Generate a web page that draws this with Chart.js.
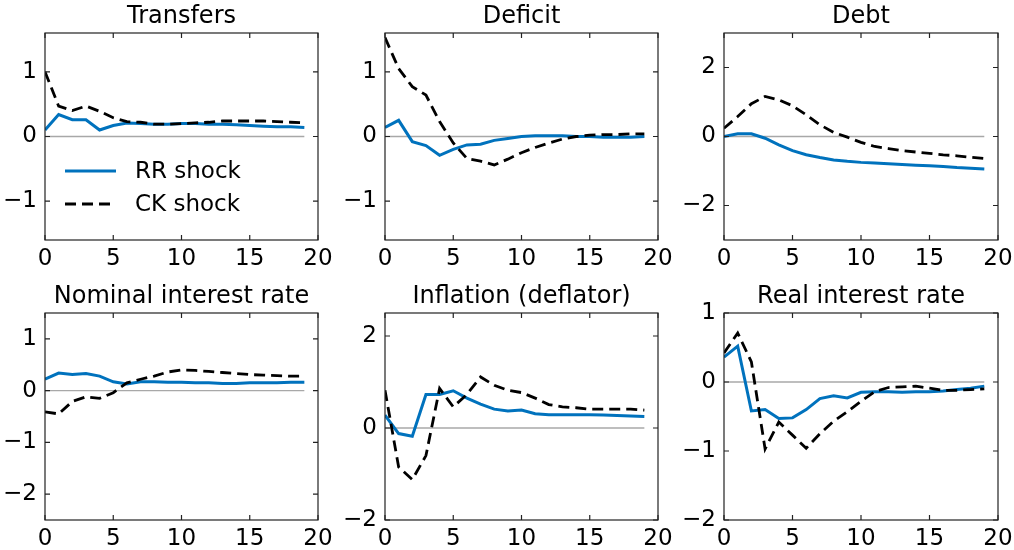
<!DOCTYPE html>
<html>
<head>
<meta charset="utf-8">
<script src="https://cdn.jsdelivr.net/npm/chart.js@4.4.0/dist/chart.umd.min.js"></script>
<style>
  body { margin: 0; background: #fff; width: 1014px; height: 550px; overflow: hidden; position: relative; }
  canvas { position: absolute; }
</style>
</head>
<body>
<script>
// impulse responses, quarters after the shock
var horizon = [0, 1, 2, 3, 4, 5, 6, 7, 8, 9, 10, 11, 12, 13, 14, 15, 16, 17, 18, 19];
var seriesNames = ['RR shock', 'CK shock'];
var titles = ['Transfers', 'Deficit', 'Debt', 'Nominal interest rate', 'Inflation (deflator)', 'Real interest rate'];
var xTicks = [0, 5, 10, 15, 20];

var rrTransfers = [0.10, 0.34, 0.26, 0.26, 0.10, 0.17, 0.21, 0.20, 0.19, 0.19, 0.20, 0.20, 0.19, 0.19, 0.18, 0.17, 0.16, 0.15, 0.15, 0.14];
var ckTransfers = [1.00, 0.47, 0.40, 0.47, 0.39, 0.29, 0.23, 0.22, 0.19, 0.19, 0.20, 0.21, 0.22, 0.24, 0.24, 0.24, 0.24, 0.23, 0.22, 0.21];

var rrDeficit = [0.14, 0.25, -0.08, -0.14, -0.29, -0.20, -0.13, -0.12, -0.06, -0.03, 0.00, 0.01, 0.01, 0.01, 0.00, 0.00, -0.01, -0.01, -0.01, 0.00];
var ckDeficit = [1.53, 1.05, 0.77, 0.64, 0.23, -0.10, -0.34, -0.38, -0.44, -0.35, -0.25, -0.17, -0.10, -0.04, 0.00, 0.02, 0.03, 0.03, 0.04, 0.04];

var rrDebt = [0.00, 0.08, 0.08, -0.05, -0.24, -0.41, -0.53, -0.61, -0.68, -0.72, -0.75, -0.77, -0.79, -0.81, -0.83, -0.85, -0.87, -0.90, -0.92, -0.94];
var ckDebt = [0.24, 0.58, 0.95, 1.16, 1.06, 0.89, 0.63, 0.34, 0.12, -0.02, -0.17, -0.29, -0.35, -0.41, -0.45, -0.49, -0.53, -0.56, -0.60, -0.64];

var rrNominal = [0.22, 0.34, 0.31, 0.33, 0.28, 0.17, 0.13, 0.17, 0.17, 0.16, 0.16, 0.15, 0.15, 0.14, 0.14, 0.15, 0.15, 0.15, 0.16, 0.16];
var ckNominal = [-0.41, -0.45, -0.21, -0.12, -0.15, -0.04, 0.15, 0.22, 0.28, 0.36, 0.40, 0.39, 0.37, 0.35, 0.33, 0.31, 0.30, 0.29, 0.28, 0.28];

var rrInflation = [0.28, -0.12, -0.18, 0.73, 0.73, 0.81, 0.65, 0.52, 0.41, 0.37, 0.39, 0.31, 0.29, 0.29, 0.29, 0.29, 0.28, 0.27, 0.26, 0.25];
var ckInflation = [0.82, -0.85, -1.12, -0.60, 0.86, 0.46, 0.73, 1.11, 0.93, 0.82, 0.77, 0.65, 0.51, 0.46, 0.44, 0.41, 0.41, 0.41, 0.41, 0.39];

var rrReal = [0.36, 0.52, -0.42, -0.40, -0.53, -0.52, -0.40, -0.24, -0.20, -0.23, -0.15, -0.14, -0.14, -0.15, -0.14, -0.14, -0.13, -0.11, -0.09, -0.06];
var ckReal = [0.42, 0.71, 0.29, -0.97, -0.58, -0.77, -0.96, -0.75, -0.57, -0.43, -0.28, -0.14, -0.08, -0.07, -0.06, -0.09, -0.12, -0.12, -0.11, -0.10];

var yLimits = [[-1.6, 1.6], [-1.6, 1.6], [-3, 3], [-2.5, 1.5], [-2, 2.5], [-2, 1]];
var yTicks = [[-1, 0, 1], [-1, 0, 1], [-2, 0, 2], [-2, -1, 0, 1], [-2, 0, 2], [-2, -1, 0, 1]];

var rrSeries = [rrTransfers, rrDeficit, rrDebt, rrNominal, rrInflation, rrReal];
var ckSeries = [ckTransfers, ckDeficit, ckDebt, ckNominal, ckInflation, ckReal];

var blue = '#0072bd';
var FONT = 'DejaVu Sans';

// plot area edges of the 3x2 grid
var cols = [{ l: 45, r: 318 }, { l: 385, r: 658 }, { l: 724, r: 998 }];
var rows = [{ t: 33, b: 240 }, { t: 313, b: 520 }];
var LEFT_W = 45, TITLE_H = 33, BOTTOM_H = 35, RIGHT_PAD = 20;

function toPoints(vals) {
  return vals.map(function (v, i) { return { x: horizon[i], y: v }; });
}

function fmtTick(v) {
  return v < 0 ? '\u2212' + Math.abs(v) : String(v);
}

// box around the axes with inward ticks on every side
var frameTicks = {
  id: 'frameTicks',
  afterDatasetsDraw: function (chart) {
    var a = chart.chartArea, ctx = chart.ctx;
    var xs = chart.scales.x, ys = chart.scales.y;
    ctx.save();
    ctx.strokeStyle = '#222';
    ctx.lineWidth = 1.2;
    ctx.beginPath();
    xs.ticks.forEach(function (t) {
      var px = xs.getPixelForValue(t.value);
      ctx.moveTo(px, a.bottom); ctx.lineTo(px, a.bottom - 5);
      ctx.moveTo(px, a.top); ctx.lineTo(px, a.top + 5);
    });
    ys.ticks.forEach(function (t) {
      var py = ys.getPixelForValue(t.value);
      ctx.moveTo(a.left, py); ctx.lineTo(a.left + 5, py);
      ctx.moveTo(a.right, py); ctx.lineTo(a.right - 5, py);
    });
    ctx.stroke();
    ctx.strokeRect(a.left, a.top, a.right - a.left, a.bottom - a.top);
    ctx.restore();
  }
};

// legend sitting inside the first panel, RR first
var innerLegend = {
  id: 'innerLegend',
  afterDraw: function (chart) {
    if (!chart.options.plugins.innerLegend.show) return;
    var a = chart.chartArea, ctx = chart.ctx;
    var byName = {};
    chart.data.datasets.forEach(function (ds) { byName[ds.label] = ds; });
    var rowsY = [a.top + 138, a.top + 171];
    ctx.save();
    ctx.font = '23px "' + FONT + '"';
    ctx.textBaseline = 'middle';
    ctx.fillStyle = '#000';
    seriesNames.forEach(function (name, i) {
      var ds = byName[name];
      ctx.beginPath();
      ctx.strokeStyle = ds.borderColor;
      ctx.lineWidth = ds.borderWidth;
      ctx.setLineDash(ds.borderDash || []);
      ctx.moveTo(a.left + 20, rowsY[i]);
      ctx.lineTo(a.left + 71, rowsY[i]);
      ctx.stroke();
      ctx.setLineDash([]);
      ctx.fillText(name, a.left + 90, rowsY[i] + 1);
    });
    ctx.restore();
  }
};

function makePanel(k) {
  var c = cols[k % 3], r = rows[Math.floor(k / 3)];
  var cv = document.createElement('canvas');
  var w = (c.r - c.l) + LEFT_W + RIGHT_PAD;
  var h = (r.b - r.t) + TITLE_H + BOTTOM_H;
  cv.width = w; cv.height = h;
  cv.style.left = (c.l - LEFT_W) + 'px';
  cv.style.top = (r.t - TITLE_H) + 'px';
  cv.style.width = w + 'px'; cv.style.height = h + 'px';
  document.body.appendChild(cv);

  new Chart(cv.getContext('2d'), {
    type: 'line',
    data: {
      datasets: [{
        label: seriesNames[1],
        data: toPoints(ckSeries[k]),
        borderColor: '#000',
        borderWidth: 2.8,
        borderDash: [11, 6],
        pointRadius: 0,
        tension: 0,
        order: 0
      }, {
        label: seriesNames[0],
        data: toPoints(rrSeries[k]),
        borderColor: blue,
        borderWidth: 3,
        pointRadius: 0,
        tension: 0,
        order: 1
      }, {
        label: 'zero',
        data: [{ x: horizon[0], y: 0 }, { x: horizon[horizon.length - 1], y: 0 }],
        borderColor: '#a8a8a8',
        borderWidth: 1.3,
        pointRadius: 0,
        order: 2
      }]
    },
    options: {
      responsive: false,
      animation: false,
      devicePixelRatio: 1,
      layout: { padding: { left: 0, right: RIGHT_PAD, top: 0, bottom: 0 } },
      plugins: {
        legend: { display: false },
        tooltip: { enabled: false },
        innerLegend: { show: k === 0 },
        title: {
          display: true,
          fullSize: false, // centre over the plot area, not the canvas
          text: titles[k],
          color: '#000',
          font: { family: FONT, size: 24, weight: 'normal', lineHeight: '28px' },
          padding: { top: 3, bottom: 2 }
        }
      },
      scales: {
        x: {
          type: 'linear',
          min: 0, max: 20,
          grid: { display: false, drawTicks: false },
          border: { display: false },
          afterBuildTicks: function (s) { s.ticks = xTicks.map(function (v) { return { value: v }; }); },
          afterFit: function (s) { s.height = BOTTOM_H; },
          ticks: {
            color: '#000', padding: 5, maxRotation: 0, autoSkip: false,
            font: { family: FONT, size: 23 },
            callback: function (v) { return fmtTick(v); }
          }
        },
        y: {
          type: 'linear',
          min: yLimits[k][0], max: yLimits[k][1],
          grid: { display: false, drawTicks: false },
          border: { display: false },
          afterBuildTicks: function (s) { s.ticks = yTicks[k].map(function (v) { return { value: v }; }); },
          afterFit: function (s) { s.width = LEFT_W; },
          ticks: {
            color: '#000', padding: 8, autoSkip: false,
            font: { family: FONT, size: 23 },
            callback: function (v) { return fmtTick(v); }
          }
        }
      }
    },
    plugins: [frameTicks, innerLegend]
  });
}

for (var k = 0; k < 6; k++) makePanel(k);
</script>
</body>
</html>
